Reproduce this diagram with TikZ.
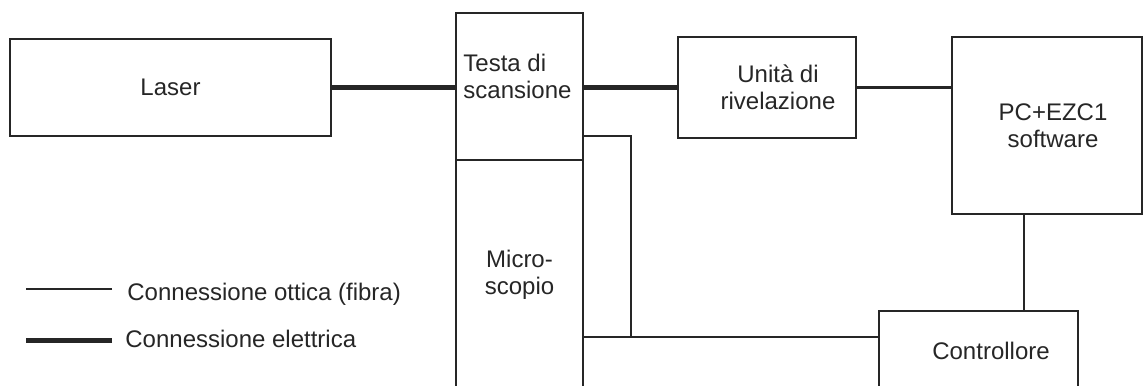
\documentclass[tikz,border=0pt]{standalone}
\usepackage{fontspec}
\setmainfont{Liberation Sans}
\usetikzlibrary{positioning}

\begin{document}
\begin{tikzpicture}[
  x=0.5pt, y=-0.5pt,
  box/.style={draw=black!85, line width=1.2pt, outer sep=0pt, inner sep=0pt, align=center, text=black!85, font=\fontsize{12}{13.5}\selectfont},
  txt/.style={inner sep=0pt, align=center, text=black!85, font=\fontsize{12}{13.5}\selectfont},
  optic/.style={draw=black!85, line width=1.2pt},
  electric/.style={draw=black!85, line width=2.5pt}
]
\useasboundingbox (0,0) rectangle (1143,385);
\clip (0,0) rectangle (1143,385);

% blocchi
\node[box, minimum width=160.5pt, minimum height=48.5pt] (laser) at (170.5,87.5) {Laser};
\node[box, minimum width=63.5pt, minimum height=73.5pt] (testa) at (519.5,86.5) {};
\node[txt, align=left, anchor=north west] (testatxt) at ([xshift=3.5pt,yshift=-20.5pt]testa.north west) {Testa di\\scansione};
\node[box, minimum width=63.5pt, minimum height=115pt, below=0pt of testa] (micro) {Micro-\\scopio};
\node[box, minimum width=89pt, minimum height=50.5pt] (unita) at (767,87.5) {};
\node[txt, xshift=5.5pt] (unitatxt) at (unita) {Unità di\\rivelazione};
\node[box, minimum width=95pt, minimum height=88.5pt] (pc) at (1047,125.5) {};
\node[txt, xshift=3pt] (pctxt) at (pc) {PC+EZC1\\software};
\node[box, minimum width=99.5pt, minimum height=40pt] (ctrl) at (978.5,351) {};
\node[txt, xshift=6.25pt] (ctrltxt) at (ctrl) {Controllore};

% collegamenti
\draw[electric] (laser.east) -- (laser.east -| testa.west);
\draw[electric] (unita.west -| testa.east) -- (unita.west);
\draw[optic] (unita.east) -- (unita.east -| pc.west);
\draw[optic] ([xshift=-11.5pt]pc.south) -- ([xshift=-11.5pt]pc.south |- ctrl.north);
\draw[optic] ([yshift=7pt]ctrl.west) coordinate (cin) -- (cin -| micro.east);
\draw[optic] ([yshift=12pt]testa.south east) -- ++(24pt,0) |- (cin);

% legenda
\node[txt, anchor=base west] (legopt) at (127,300) {Connessione ottica (fibra)};
\node[txt, anchor=base west] (legel) at (125,347) {Connessione elettrica};
\draw[optic] ([xshift=-7.5pt,yshift=5.5pt]legopt.base west) -- ++(-43pt,0);
\draw[electric] ([xshift=-6.5pt,yshift=3.5pt]legel.base west) -- ++(-43pt,0);
\end{tikzpicture}
\end{document}
